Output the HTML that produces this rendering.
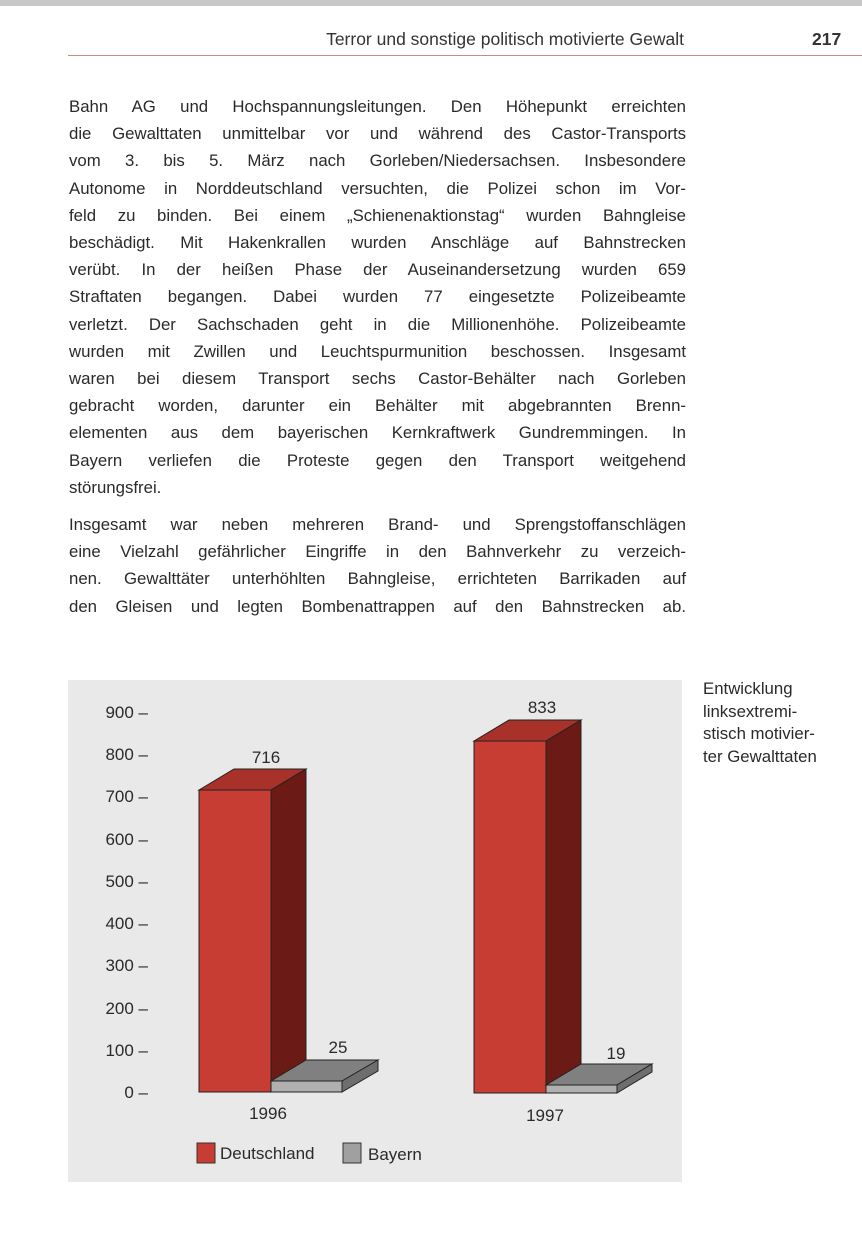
<!DOCTYPE html>
<html><head><meta charset="utf-8"><style>
body{margin:0;width:862px;height:1257px;background:#fff;position:relative;overflow:hidden;font-family:"Liberation Sans",sans-serif;color:#2a2a2a}
.topbar{position:absolute;left:0;top:0;width:862px;height:6px;background:#c8c8c8}
.hdr{position:absolute;top:29px;font-size:17.5px;color:#333}
.rule{position:absolute;left:68px;top:55px;width:794px;height:1px;background:#c98a80}
.txt{position:absolute;left:69px;width:617px;font-size:16.8px;line-height:27.2px}
.txt div{text-align:justify;text-align-last:justify;white-space:nowrap}
.txt div.l{text-align-last:left}
.cap{position:absolute;left:703px;top:678px;font-size:16.8px;line-height:22.5px}
</style></head><body>
<div class="topbar"></div>
<div class="hdr" style="left:240px;width:444px;text-align:right">Terror und sonstige politisch motivierte Gewalt</div>
<div class="hdr" style="left:812px;font-weight:bold">217</div>
<div class="rule"></div>
<div class="txt" style="top:93px">
<div>Bahn AG und Hochspannungsleitungen. Den Höhepunkt erreichten</div>
<div>die Gewalttaten unmittelbar vor und während des Castor-Transports</div>
<div>vom 3. bis 5. März nach Gorleben/Niedersachsen. Insbesondere</div>
<div>Autonome in Norddeutschland versuchten, die Polizei schon im Vor-</div>
<div>feld zu binden. Bei einem „Schienenaktionstag“ wurden Bahngleise</div>
<div>beschädigt. Mit Hakenkrallen wurden Anschläge auf Bahnstrecken</div>
<div>verübt. In der heißen Phase der Auseinandersetzung wurden 659</div>
<div>Straftaten begangen. Dabei wurden 77 eingesetzte Polizeibeamte</div>
<div>verletzt. Der Sachschaden geht in die Millionenhöhe. Polizeibeamte</div>
<div>wurden mit Zwillen und Leuchtspurmunition beschossen. Insgesamt</div>
<div>waren bei diesem Transport sechs Castor-Behälter nach Gorleben</div>
<div>gebracht worden, darunter ein Behälter mit abgebrannten Brenn-</div>
<div>elementen aus dem bayerischen Kernkraftwerk Gundremmingen. In</div>
<div>Bayern verliefen die Proteste gegen den Transport weitgehend</div>
<div class="l">störungsfrei.</div>
</div>
<div class="txt" style="top:511px">
<div>Insgesamt war neben mehreren Brand- und Sprengstoffanschlägen</div>
<div>eine Vielzahl gefährlicher Eingriffe in den Bahnverkehr zu verzeich-</div>
<div>nen. Gewalttäter unterhöhlten Bahngleise, errichteten Barrikaden auf</div>
<div>den Gleisen und legten Bombenattrappen auf den Bahnstrecken ab.</div>
</div>
<div class="cap">Entwicklung<br>linksextremi-<br>stisch motivier-<br>ter Gewalttaten</div>
<svg style="position:absolute;left:0;top:0" width="862" height="1257" font-family="Liberation Sans, sans-serif" font-size="17" fill="#2a2a2a">
<rect x="68" y="680" width="614" height="502" fill="#e9e9ea"/>
<g text-anchor="end">
<text x="148" y="718">900 –</text><text x="148" y="760">800 –</text><text x="148" y="802">700 –</text>
<text x="148" y="845">600 –</text><text x="148" y="887">500 –</text><text x="148" y="929">400 –</text>
<text x="148" y="971">300 –</text><text x="148" y="1014">200 –</text><text x="148" y="1056">100 –</text>
<text x="148" y="1098">0 –</text>
</g>
<g stroke="#222" stroke-width="1">
<polygon points="199,790 234,769 306,769 271,790" fill="#a8322a"/>
<polygon points="271,790 306,769 306,1071 271,1092" fill="#6b1a15"/>
<rect x="199" y="790" width="72" height="302" fill="#c73c33"/>
<polygon points="271,1081 306,1060 378,1060 342,1081" fill="#808080"/>
<polygon points="342,1081 378,1060 378,1071 342,1092" fill="#6e6e6e"/>
<rect x="271" y="1081" width="71" height="11" fill="#b0b0b0"/>
<polygon points="474,741 509,720 581,720 546,741" fill="#a8322a"/>
<polygon points="546,741 581,720 581,1072 546,1093" fill="#6b1a15"/>
<rect x="474" y="741" width="72" height="352" fill="#c73c33"/>
<polygon points="546,1085 581,1064 652,1064 617,1085" fill="#808080"/>
<polygon points="617,1085 652,1064 652,1072 617,1093" fill="#6e6e6e"/>
<rect x="546" y="1085" width="71" height="8" fill="#b0b0b0"/>
</g>
<g text-anchor="middle">
<text x="266" y="763">716</text><text x="338" y="1053">25</text>
<text x="542" y="713">833</text><text x="616" y="1059">19</text>
<text x="268" y="1119">1996</text><text x="545" y="1121">1997</text>
</g>
<rect x="197" y="1143" width="18" height="20" fill="#c73c33" stroke="#333"/>
<text x="220" y="1159">Deutschland</text>
<rect x="343" y="1143" width="18" height="20" fill="#a0a0a0" stroke="#333"/>
<text x="368" y="1160">Bayern</text>
</svg>
</body></html>
